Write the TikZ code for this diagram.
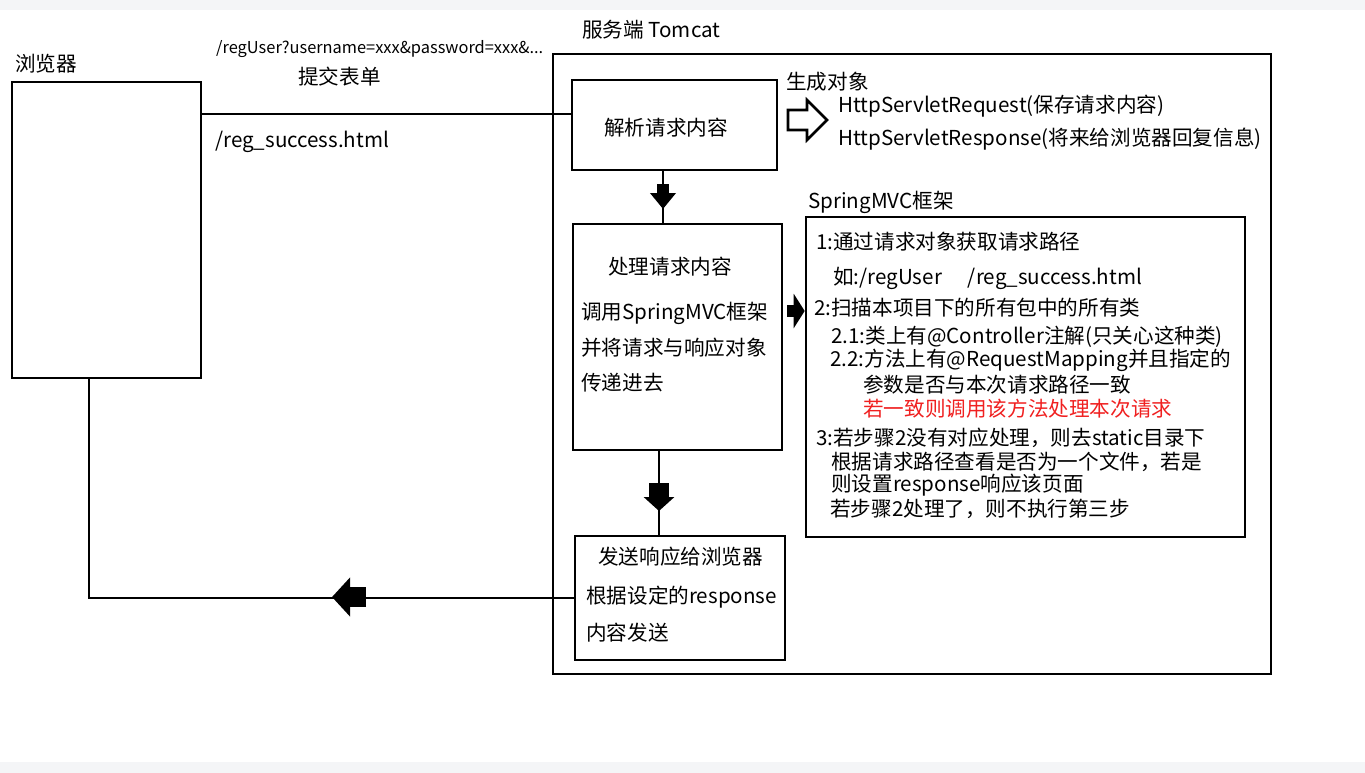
\documentclass[tikz,border=0pt]{standalone}
\usepackage{fontspec}
\setmainfont{Noto Sans CJK SC}
\usepackage{tikz}
\usetikzlibrary{arrows.meta}
\usetikzlibrary{calc,shapes}
\definecolor{bandgray}{RGB}{244,245,247}
\definecolor{warnred}{RGB}{240,32,32}

\tikzset{
	box/.style={draw,line width=2.6pt,inner sep=0pt},
	txt/.style={anchor=west,inner sep=0pt,font=\fontsize{20.6}{24}\selectfont},
	small/.style={anchor=west,inner sep=0pt,font=\fontsize{16.4}{18}\selectfont},
	blockarrow/.style n args={3}{line width=#1,-{Triangle[width=#2,length=#3]}}
}

\begin{document}
\begin{tikzpicture}[x=1pt,y=-1pt]
	% Fond
	\useasboundingbox (0,0) rectangle (1365,773);
	\fill[bandgray] (0,0) rectangle (1365,773);
	\fill[white] (0,10) rectangle (1365,762);
	% Boites
	\node[box,minimum width=189pt,minimum height=296pt] (browser) at (106.5,230) {};
	\node[box,minimum width=718pt,minimum height=620pt] (server) at (912,364) {};
	\node[box,minimum width=205pt,minimum height=90pt] (parse) at (674.5,125) {};
	\node[box,minimum width=209pt,minimum height=226pt] (proc) at (677.5,337) {};
	\node[box,minimum width=210pt,minimum height=124pt] (send) at (680,598) {};
	\node[box,minimum width=439pt,minimum height=320pt] (spring) at (1025.5,377) {};
	% Textes
	\node[txt] (lbrowser) at (15,64) {浏览器};
	\node[small] (lurl) at (216,49) {/regUser?username=xxx\&password=xxx\&...};
	\node[txt] (lsubmit) at (298,77) {提交表单};
	\node[txt] (lsuccess) at (215,142) {/reg\_success.html};
	\node[txt] (lserver) at (582,30) {服务端 Tomcat};
	\node[txt,anchor=center] (lparse) at (666,128) {解析请求内容};
	\node[txt] (lgen) at (786,82) {生成对象};
	\node[txt] (lreq) at (838,106) {HttpServletRequest(保存请求内容)};
	\node[txt] (lresp) at (838,139) {HttpServletResponse(将来给浏览器回复信息)};
	\node[txt] (lspring) at (808,202) {SpringMVC框架};
	\node[txt] (lproc1) at (608,267) {处理请求内容};
	\node[txt] (lproc2) at (581,313) {调用SpringMVC框架};
	\node[txt] (lproc3) at (581,348) {并将请求与响应对象};
	\node[txt] (lproc4) at (581,383) {传递进去};
	\node[txt] (lsend1) at (598,557) {发送响应给浏览器};
	\node[txt] (lsend2) at (586,597) {根据设定的response};
	\node[txt] (lsend3) at (586,633) {内容发送};
	% SpringMVC
	\node[txt] (s1) at (816,242) {1:通过请求对象获取请求路径};
	\node[txt] (s2) at (833,278) {如:/regUser\hspace{26pt}/reg\_success.html};
	\node[txt] (s3) at (814,308) {2:扫描本项目下的所有包中的所有类};
	\node[txt] (s4) at (831,337) {2.1:类上有@Controller注解(只关心这种类)};
	\node[txt] (s5) at (830,360) {2.2:方法上有@RequestMapping并且指定的};
	\node[txt] (s6) at (863,385) {参数是否与本次请求路径一致};
	\node[txt,text=warnred] (s7) at (863,409) {若一致则调用该方法处理本次请求};
	\node[txt] (s8) at (816,438) {3:若步骤2没有对应处理，则去static目录下};
	\node[txt] (s9) at (831,462) {根据请求路径查看是否为一个文件，若是};
	\node[txt] (s10) at (831,485) {则设置response响应该页面};
	\node[txt] (s11) at (830,509) {若步骤2处理了，则不执行第三步};
	% Liaisons
	\draw[line width=2.6pt] ([yshift=11pt]parse.west) -- (browser.east |- 0,114);
	\draw[line width=2.6pt] (parse.south -| 663,0) -- (proc.north -| 663,0);
	\draw[line width=2.6pt] (proc.south -| 659,0) -- (send.north -| 659,0);
	\draw[line width=2.6pt] (send.west) -| ([xshift=-17.5pt]browser.south);
	% Flèches
	\draw[blockarrow={12pt}{25pt}{16pt}] (663,184) -- (663,209);
	\draw[blockarrow={20pt}{30pt}{14pt}] (659,483) -- (659,511);
	\draw[blockarrow={12pt}{34pt}{11pt}] (787,311) -- (spring.west |- 0,311);
	\draw[blockarrow={20pt}{38pt}{18pt}] (366,597) -- (332,597);
	\draw[line width=2.6pt,fill=white] (788,110) -- (807,110) -- (807,100) -- (827,120)
		-- (807,140) -- (807,130) -- (788,130) -- cycle;
\end{tikzpicture}
\end{document}
